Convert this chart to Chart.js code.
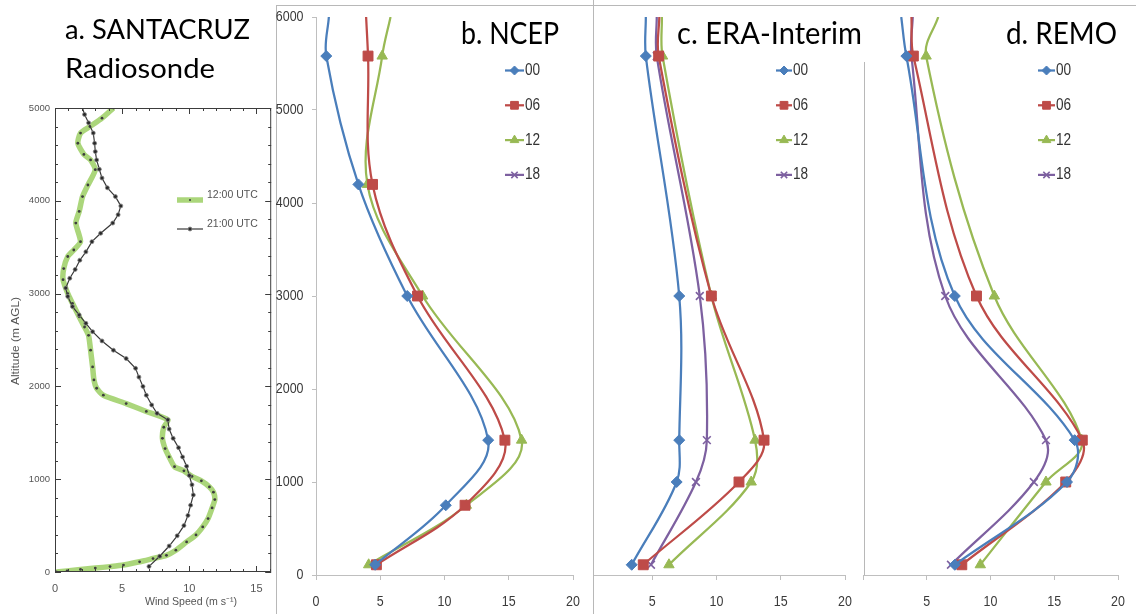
<!DOCTYPE html>
<html>
<head>
<meta charset="utf-8">
<script src="https://cdn.jsdelivr.net/npm/chart.js@4.4.1/dist/chart.umd.min.js"></script>
<style>
  body { margin: 0; background: #fff; width: 1136px; height: 614px; overflow: hidden; position: relative; }
  .box { position: absolute; }
  .rule { position: absolute; background: #b8b8b8; }
</style>
</head>
<body>
<div class="rule" style="left:276px;top:5px;width:860px;height:1px"></div>
<div class="rule" style="left:276px;top:5px;width:1px;height:609px"></div>
<div class="box" style="left:0;top:0;width:276px;height:614px"><canvas id="chartA"></canvas></div>
<div class="box" style="left:270px;top:0;width:333px;height:614px"><canvas id="chartB"></canvas></div>
<div class="box" style="left:843px;top:0;width:313px;height:614px"><canvas id="chartD"></canvas></div>
<div class="box" style="left:593px;top:0;width:272px;height:614px;overflow:hidden;border-left:1px solid #b8b8b8">
  <div class="box" style="left:-25px;top:0;width:317px;height:614px"><canvas id="chartC"></canvas></div>
</div>
<div class="rule" style="left:864px;top:62px;width:1px;height:513px"></div>

<script>
// a. Santa Cruz radiosonde, wind speed (m/s) against altitude (m AGL)
const sonde12Spd = [0.1, 0.9, 1.9, 3.0, 4.1, 5.1, 6.3, 7.3, 8.3, 9.0, 9.8, 10.5, 11.0, 11.4, 11.7, 11.9, 11.8, 11.5, 10.9, 10.2,
  9.6, 8.9, 8.5, 8.2, 8.0, 8.1, 8.4, 6.8, 5.3, 3.6, 3.1, 2.9, 2.8, 2.65, 2.5, 2.2, 1.8, 1.3, 0.95, 0.6,
  0.65, 0.95, 1.4, 1.9, 1.55, 1.8, 2.05, 2.45, 3.0, 2.65, 2.15, 1.7, 1.9, 2.6, 3.5, 4.35];
const sonde12Alt = [0, 12, 28, 42, 58, 75, 110, 145, 180, 235, 324, 400, 486, 576, 690, 780, 860, 917, 982, 1030,
  1090, 1135, 1240, 1330, 1440, 1560, 1640, 1730, 1815, 1905, 1980, 2070, 2210, 2390, 2550, 2640, 2750, 2895, 3000, 3150,
  3270, 3400, 3470, 3560, 3760, 3885, 4045, 4170, 4335, 4440, 4500, 4620, 4730, 4800, 4890, 5000];
const sonde21Spd = [7.0, 7.8, 8.5, 9.1, 9.6, 9.9, 10.1, 10.3, 10.2, 10.0, 9.8, 9.5, 9.2, 8.8, 8.5, 8.4, 7.6, 7.2, 6.8, 6.55,
  6.25, 6.0, 5.3, 4.35, 3.5, 2.8, 2.3, 1.8, 1.3, 0.95, 0.8, 1.1, 1.5, 1.85, 2.3, 2.75, 3.4, 4.3, 4.7, 4.9,
  4.5, 3.9, 3.5, 3.3, 3.1, 3.0, 2.95, 2.85, 2.5, 2.2, 2.0];
const sonde21Alt = [60, 170, 280, 390, 500, 610, 720, 830, 940, 1040, 1140, 1240, 1340, 1440, 1540, 1640, 1710, 1800, 1905, 2000,
  2100, 2195, 2300, 2390, 2490, 2590, 2680, 2770, 2860, 2970, 3060, 3165, 3260, 3360, 3450, 3560, 3650, 3760, 3850, 3945,
  4045, 4140, 4245, 4340, 4440, 4530, 4620, 4730, 4840, 4930, 5020];
const sondeSpdTicks = [0, 5, 10, 15];
const sondeAltTicks = [0, 1000, 2000, 3000, 4000, 5000];

// b. NCEP (last level is where the curve leaves the top of the frame)
const ncepLevels = [110, 750, 1450, 3000, 4200, 5580, 6000];
const ncep00 = [4.6, 10.1, 13.4, 7.1, 3.3, 0.8, 1.0];
const ncep06 = [4.7, 11.6, 14.7, 7.9, 4.4, 4.05, 3.9];
const ncep12 = [4.1, 11.7, 16.0, 8.3, 4.0, 5.15, 5.8];

// c. ERA-Interim
const eraLevels = [110, 1000, 1450, 3000, 5580, 6000];
const era00 = [3.4, 6.9, 7.1, 7.1, 4.5, 4.5];
const era06 = [4.3, 11.75, 13.7, 9.6, 5.5, 5.55];
const era12 = [6.3, 12.7, 13.0, 9.6, 5.8, 5.75];
const era18 = [4.9, 8.4, 9.25, 8.7, 5.35, 5.35];

// d. REMO
const remoLevels = [110, 1000, 1450, 3000, 5580, 6000];
const remo00 = [7.2, 16.0, 16.6, 7.2, 3.4, 3.0];
const remo06 = [7.75, 15.9, 17.2, 8.9, 3.95, 3.8];
const remo12 = [9.2, 14.35, 17.15, 10.3, 4.95, 5.9];
const remo18 = [6.9, 13.4, 14.35, 6.45, 3.8, 3.9];

const speedTicks = [0, 5, 10, 15, 20];
const altTicks = [0, 1000, 2000, 3000, 4000, 5000, 6000];

Chart.defaults.font.family = "'Liberation Sans', Arial, sans-serif";
Chart.defaults.animation = false;
Chart.defaults.events = [];
Chart.defaults.plugins.legend.display = false;
Chart.defaults.plugins.tooltip.enabled = false;

const plain = v => String(v);
const NARROW_FONT = '15px "Liberation Sans"';
const SQUEEZE = 0.83;   // the figure uses a condensed face

const hourStyle = {
  '00': { color: '#4A7EBB', shape: 'rectRot', r: 5.5, kr: 4.5 },
  '06': { color: '#BE4B48', shape: 'rect', r: 7, kr: 5.5 },
  '12': { color: '#98B954', shape: 'triangle', r: 6, kr: 5 },
  '18': { color: '#7D60A0', shape: 'crossRot', r: 5.5, kr: 4.5 }
};

function hourSeries(label, levels, speeds) {
  const s = hourStyle[label];
  return {
    label: label,
    data: levels.map((h, i) => ({ x: speeds[i], y: h })),
    showLine: true,
    borderColor: s.color,
    backgroundColor: s.color,
    borderWidth: 2.25,
    tension: 0.35,
    pointStyle: s.shape,
    pointRadius: levels.map(h => h < 6000 ? s.r : 0),
    pointBackgroundColor: s.color,
    pointBorderColor: s.color,
    pointBorderWidth: s.shape == 'crossRot' ? 1.6 : 1,
    keyRadius: s.kr
  };
}

// titles as canvas text, squeezed/stretched to the width they have in the figure
const titleText = {
  id: 'titleText',
  afterDraw(chart, args, o) {
    if (!o.lines) return;
    const ctx = chart.ctx;
    o.lines.forEach(l => {
      ctx.save();
      ctx.font = l.font;
      ctx.fillStyle = l.color || '#000';
      ctx.textBaseline = 'alphabetic';
      const w = ctx.measureText(l.text).width;
      ctx.translate(l.x, l.y);
      if (l.rot) ctx.rotate(-Math.PI / 2);
      ctx.scale(l.w / w, 1);
      ctx.fillText(l.text, 0, 0);
      ctx.restore();
    });
  }
};

// tick labels in a condensed look, taken from the scales' own ticks
const narrowTicks = {
  id: 'narrowTicks',
  afterDraw(chart, args, o) {
    if (!o.on) return;
    const ctx = chart.ctx;
    const draw = (label, x, y, align) => {
      ctx.save();
      ctx.translate(x, y);
      ctx.scale(SQUEEZE, 1);
      ctx.textAlign = align;
      ctx.textBaseline = 'middle';
      ctx.fillText(label, 0, 0);
      ctx.restore();
    };
    ctx.save();
    ctx.font = NARROW_FONT;
    ctx.fillStyle = '#3a3a3a';
    const sx = chart.scales.x, sy = chart.scales.y;
    sx.ticks.forEach(t => {
      if (o.skipZero && t.value === 0) return;
      draw(String(t.value), sx.getPixelForValue(t.value), o.xLabelY, 'center');
    });
    if (o.yLabels) {
      sy.ticks.forEach(t => draw(String(t.value), o.yLabelRight, sy.getPixelForValue(t.value), 'right'));
    }
    ctx.restore();
  }
};

// legend placed inside the plot, one row per dataset
const keyBox = {
  id: 'keyBox',
  afterDraw(chart, args, o) {
    if (o.x == null) return;
    const ctx = chart.ctx;
    chart.data.datasets.forEach((ds, i) => {
      const y = o.y + i * o.gap;
      ctx.save();
      ctx.strokeStyle = ds.borderColor;
      ctx.lineWidth = o.lineWidth || ds.borderWidth;
      ctx.beginPath();
      ctx.moveTo(o.x, y);
      ctx.lineTo(o.x + o.len, y);
      ctx.stroke();
      ctx.fillStyle = ds.pointBackgroundColor;
      ctx.strokeStyle = ds.pointBorderColor;
      ctx.lineWidth = ds.pointBorderWidth;
      Chart.helpers.drawPoint(ctx, { pointStyle: ds.pointStyle, radius: ds.keyRadius, borderWidth: ds.pointBorderWidth, rotation: 0 }, o.x + o.len / 2, y);
      ctx.fillStyle = o.color;
      ctx.font = o.font;
      ctx.textBaseline = 'middle';
      ctx.translate(o.x + o.len + o.textGap, y + (o.dy || 0));
      ctx.scale(o.sx || 1, 1);
      ctx.fillText(ds.label, 0, 0);
      ctx.restore();
    });
  }
};

// box with inward ticks for the radiosonde panel
const frameTicks = {
  id: 'frameTicks',
  afterDatasetsDraw(chart, args, o) {
    if (!o.on) return;
    const { ctx, chartArea: a, scales: { x, y } } = chart;
    ctx.save();
    ctx.strokeStyle = '#3c3c3c';
    ctx.lineWidth = 1;
    ctx.strokeRect(a.left + 0.5, a.top + 0.5, a.width - 1, a.height - 1);
    ctx.beginPath();
    for (let v = 0; v <= x.max; v += 1) {
      const px = Math.round(x.getPixelForValue(v)) + 0.5;
      const L = v % 5 ? 3 : 6;
      ctx.moveTo(px, a.bottom); ctx.lineTo(px, a.bottom - L);
      ctx.moveTo(px, a.top); ctx.lineTo(px, a.top + L);
    }
    for (let v = 0; v <= y.max; v += 200) {
      const py = Math.round(y.getPixelForValue(v)) + 0.5;
      const L = v % 1000 ? 3 : 6;
      ctx.moveTo(a.left, py); ctx.lineTo(a.left + L, py);
      ctx.moveTo(a.right, py); ctx.lineTo(a.right - L, py);
    }
    ctx.stroke();
    ctx.restore();
  }
};

Chart.register(titleText, narrowTicks, keyBox, frameTicks);

// canvas position and plot-area box, both in page pixels
function geometry(cv, area) {
  return {
    padding: { top: area.top - cv.top, right: cv.left + cv.width - area.right, left: 0, bottom: 0 },
    yWidth: area.left - cv.left,
    xHeight: cv.top + cv.height - area.bottom
  };
}

function modelChart(id, cv, datasets, showY, key, titles) {
  const g = geometry(cv, { left: cv.areaLeft, right: cv.areaRight, top: 17, bottom: 575 });
  return new Chart(id, {
    type: 'scatter',
    data: { datasets: datasets },
    options: {
      responsive: true,
      maintainAspectRatio: false,
      layout: { padding: g.padding },
      scales: {
        x: {
          min: 0, max: 20,
          afterBuildTicks: s => { s.ticks = speedTicks.map(v => ({ value: v })); },
          afterFit: s => { s.height = g.xHeight; },
          grid: { drawOnChartArea: false, tickLength: 5, color: '#bfbfbf' },
          border: { color: '#bfbfbf' },
          ticks: { display: false }
        },
        y: {
          min: 0, max: 6000,
          afterBuildTicks: s => { s.ticks = altTicks.map(v => ({ value: v })); },
          afterFit: s => { s.width = g.yWidth; },
          grid: { display: showY, drawOnChartArea: false, tickLength: 4, color: '#bfbfbf' },
          border: { display: showY, color: '#bfbfbf' },
          ticks: { display: false }
        }
      },
      plugins: {
        // the 0 of the panels without a y axis sits under the neighbouring panel
        narrowTicks: { on: true, skipZero: !showY, xLabelY: 602 - cv.top, yLabels: showY, yLabelRight: 303.5 - cv.left },
        keyBox: { x: key.x - cv.left, y: 70.5, gap: 34.8, len: key.len, textGap: 1, sx: 0.85, color: '#333', font: '16px "Liberation Sans"' },
        titleText: { lines: titles.map(t => Object.assign({}, t, { x: t.x - cv.left })) }
      }
    }
  });
}

// a. radiosonde
const cvA = { left: 0, top: 0, width: 276, height: 614 };
const gA = geometry(cvA, { left: 55, right: 273, top: 108, bottom: 572 });
new Chart('chartA', {
  type: 'scatter',
  data: {
    datasets: [
      {
        label: '12:00 UTC',
        data: sonde12Alt.map((h, i) => ({ x: sonde12Spd[i], y: h })),
        showLine: true, order: 2,
        borderColor: 'rgba(150,204,90,0.8)', borderWidth: 5.5, tension: 0.2,
        pointStyle: 'circle', pointRadius: 1.4,
        pointBackgroundColor: '#3d3d3d', pointBorderColor: '#3d3d3d', pointBorderWidth: 0,
        keyRadius: 1
      },
      {
        label: '21:00 UTC',
        data: sonde21Alt.map((h, i) => ({ x: sonde21Spd[i], y: h })),
        showLine: true, order: 1,
        borderColor: '#3a3a3a', borderWidth: 1.2, tension: 0,
        pointStyle: 'circle', pointRadius: 2,
        pointBackgroundColor: '#2a2a2a', pointBorderColor: '#8a8a8a', pointBorderWidth: 0.8,
        keyRadius: 2
      }
    ]
  },
  options: {
    responsive: true,
    maintainAspectRatio: false,
    layout: { padding: gA.padding },
    scales: {
      x: {
        min: 0, max: 16.1,
        afterBuildTicks: s => { s.ticks = sondeSpdTicks.map(v => ({ value: v })); },
        afterFit: s => { s.height = gA.xHeight; },
        grid: { display: false, drawTicks: false },
        border: { display: false },
        ticks: { color: '#555', padding: 10, font: { size: 11 }, callback: plain }
      },
      y: {
        min: 0, max: 5000,
        afterBuildTicks: s => { s.ticks = sondeAltTicks.map(v => ({ value: v })); },
        afterFit: s => { s.width = gA.yWidth; },
        grid: { display: false, drawTicks: false },
        border: { display: false },
        ticks: { color: '#555', padding: 5, font: { size: 9.5 }, callback: plain }
      }
    },
    plugins: {
      frameTicks: { on: true },
      keyBox: { x: 177, y: 200, gap: 29, len: 26, textGap: 4, dy: -4.5, color: '#555', font: '10.5px "Liberation Sans", Arial' },
      titleText: {
        lines: [
          { text: 'a. SANTACRUZ', x: 65, y: 39, w: 185, font: '27px Lato' },
          { text: 'Radiosonde', x: 65, y: 78, w: 150, font: '27px Lato' },
          { text: 'Wind Speed (m s\u207B\u00B9)', x: 145, y: 605, w: 92, font: '11px "Liberation Sans"', color: '#555' },
          { text: 'Altitude (m AGL)', x: 19, y: 385, w: 88, rot: true, font: '11px "Liberation Sans"', color: '#555' }
        ]
      }
    }
  }
});

// b. NCEP
modelChart('chartB', { left: 270, top: 0, width: 333, height: 614, areaLeft: 316, areaRight: 573 },
  [hourSeries('00', ncepLevels, ncep00), hourSeries('06', ncepLevels, ncep06),
   hourSeries('12', ncepLevels, ncep12), hourSeries('18', [], [])],
  true, { x: 505, len: 19 },
  [{ text: 'b. NCEP', x: 461, y: 44, w: 98, font: '31px Lato' }]);

// c. ERA-Interim
modelChart('chartC', { left: 569, top: 0, width: 317, height: 614, areaLeft: 588, areaRight: 845 },
  [hourSeries('00', eraLevels, era00), hourSeries('06', eraLevels, era06),
   hourSeries('12', eraLevels, era12), hourSeries('18', eraLevels, era18)],
  false, { x: 776, len: 16 },
  [{ text: 'c. ERA-Interim', x: 677, y: 44, w: 185, font: '31px Lato' }]);

// d. REMO
modelChart('chartD', { left: 843, top: 0, width: 313, height: 614, areaLeft: 863, areaRight: 1118 },
  [hourSeries('00', remoLevels, remo00), hourSeries('06', remoLevels, remo06),
   hourSeries('12', remoLevels, remo12), hourSeries('18', remoLevels, remo18)],
  false, { x: 1038, len: 17 },
  [{ text: 'd. REMO', x: 1006, y: 44, w: 111, font: '31px Lato' }]);
</script>
</body>
</html>
